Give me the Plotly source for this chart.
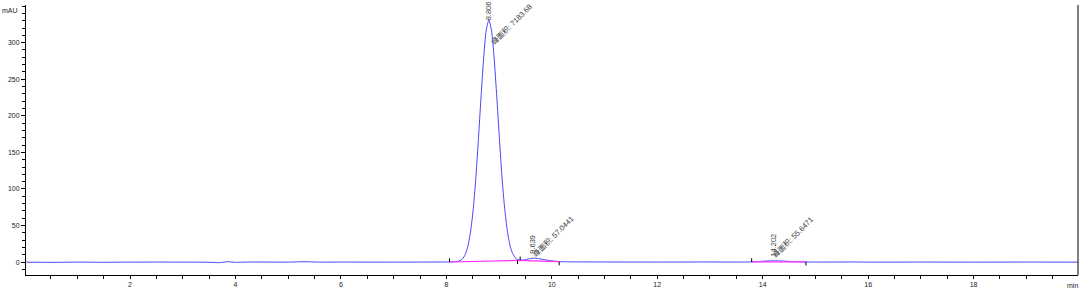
import plotly.graph_objects as go

# ---- chromatogram signal ----
time_min = [0.03, 0.5, 1.0, 1.5, 2.0, 2.5, 3.0, 3.5, 3.7, 3.85, 4.0, 4.3, 5.0, 5.3, 5.6,
            6.0, 7.0, 7.5, 8.0, 8.1, 8.2,
            8.256, 8.306, 8.356, 8.406, 8.456, 8.506, 8.556, 8.606, 8.656, 8.706, 8.756,
            8.806, 8.856, 8.906, 8.956, 9.006, 9.056, 9.106, 9.156, 9.206, 9.256, 9.306,
            9.356, 9.40, 9.45, 9.5, 9.55, 9.6, 9.65, 9.7, 9.75, 9.8, 9.9, 10.0, 10.1,
            10.2, 10.5, 11.0, 12.0, 13.0, 13.5, 13.8, 13.9, 14.0, 14.1, 14.2, 14.3,
            14.4, 14.5, 14.6, 14.7, 14.8, 15.0, 15.8, 16.0, 17.0, 18.0, 19.0, 20.0]
signal_mau = [0.0, -0.3, 0.0, -0.2, 0.0, 0.1, 0.0, -0.2, -0.7, 0.6, -0.3, 0.2, 0.0, 0.6, 0.0,
              0.1, 0.0, 0.1, 0.2, 0.3, 0.8,
              2.0, 4.5, 10, 21, 40, 70, 112, 166, 224, 278, 317,
              331, 317, 279, 226, 169, 115, 73, 43, 23, 12, 6,
              3.5, 2.6, 2.8, 3.5, 4.3, 5.0, 5.4, 5.3, 4.8, 4.1, 2.8, 1.7, 1.0,
              0.6, 0.3, 0.2, 0.1, 0.2, 0.1, 0.3, 0.7, 1.2, 1.6, 1.8, 1.7,
              1.4, 1.0, 0.7, 0.4, 0.3, 0.1, 0.2, 0.0, 0.1, 0.0, 0.1, 0.0]

# ---- integration baselines ----
base_t0 = [8.06, 9.36, 13.79]
base_y0 = [0.2, 2.3, 0.3]
base_t1 = [9.36, 10.14, 14.82]
base_y1 = [2.3, 0.6, 0.3]

# ---- integration event ticks ----
event_t = [8.06, 9.35, 9.40, 10.14, 13.79, 14.82]
event_y = [0.2, 2.3, 2.5, 0.6, 0.3, 0.3]
event_dir = [1, -1, 1, -1, 1, -1]

# ---- peak labels ----
peak_rt = [8.806, 9.639, 14.202]
peak_h = [331, 5.0, 1.8]
peak_rt_text = ["8.806", "9.639", "14.202"]
peak_area_text = ["峰面积: 7183.68", "峰面积: 57.0441", "峰面积: 55.6471"]
rt_label_shift = [-2, 3, 2]
area_label_shift = [-29, -3, -2]
area_label_xshift = [-3, -5, -6]

fig = go.Figure()
fig.add_trace(go.Scatter(x=time_min, y=signal_mau, mode="lines",
                         line=dict(color="#4646ff", width=1, shape="spline", smoothing=0.6),
                         hoverinfo="skip", showlegend=False))
for a, b, c, d in zip(base_t0, base_y0, base_t1, base_y1):
    fig.add_trace(go.Scatter(x=[a, c], y=[b, d], mode="lines",
                             line=dict(color="#ff30ff", width=1.2),
                             hoverinfo="skip", showlegend=False))

for t, y, s in zip(event_t, event_y, event_dir):
    fig.add_shape(type="line", x0=t, x1=t, y0=y, y1=y + 5 * s,
                  line=dict(color="#000000", width=1))

lab_font = dict(family="Liberation Sans, Noto Sans CJK SC, sans-serif", size=7.5, color="#3a3a3a")
for rt, h, rtt, at, rs, ars, axs in zip(peak_rt, peak_h, peak_rt_text, peak_area_text,
                                        rt_label_shift, area_label_shift, area_label_xshift):
    fig.add_annotation(x=rt, y=h, text=rtt, textangle=-90, showarrow=False,
                       xanchor="center", yanchor="bottom", yshift=rs, font=lab_font)
    fig.add_annotation(x=rt, y=h, text=at, textangle=-45, showarrow=False,
                       xanchor="left", yanchor="bottom", yshift=ars, xshift=axs, font=lab_font)

tick_font = dict(family="Liberation Sans, Arial, sans-serif", size=7, color="#222222")
fig.add_annotation(x=0, y=1, xref="paper", yref="paper", text="mAU", showarrow=False,
                   xanchor="right", yanchor="middle", xshift=-6, yshift=-5, font=tick_font)
fig.add_annotation(x=1, y=0, xref="paper", yref="paper", text="min", showarrow=False,
                   xanchor="right", yanchor="top", xshift=2, yshift=-5, font=tick_font)
fig.add_shape(type="line", xref="paper", yref="paper", x0=1, x1=1, y0=0, y1=1,
              line=dict(color="#000000", width=1))

fig.update_layout(
    width=1080, height=290,
    margin=dict(l=26, r=2, t=5, b=13),
    paper_bgcolor="white", plot_bgcolor="white",
    showlegend=False,
)
fig.update_xaxes(range=[0.027, 19.98], showgrid=False, zeroline=False,
                 showline=True, linecolor="#000000", linewidth=1,
                 ticks="outside", ticklen=3, tickcolor="#000000", tick0=0, dtick=2,
                 tickvals=[2, 4, 6, 8, 10, 12, 14, 16, 18],
                 minor=dict(ticks="outside", ticklen=3, tickcolor="#000000", dtick=0.5, tick0=0),
                 tickfont=tick_font)
fig.update_yaxes(range=[-17.6, 351.5], showgrid=False, zeroline=False,
                 showline=True, linecolor="#000000", linewidth=1,
                 ticks="outside", ticklen=4, tickcolor="#000000", tick0=0, dtick=50,
                 tickvals=[0, 50, 100, 150, 200, 250, 300],
                 minor=dict(ticks="outside", ticklen=3, tickcolor="#000000", dtick=10, tick0=0),
                 tickfont=tick_font)

fig.write_html("out.html")
